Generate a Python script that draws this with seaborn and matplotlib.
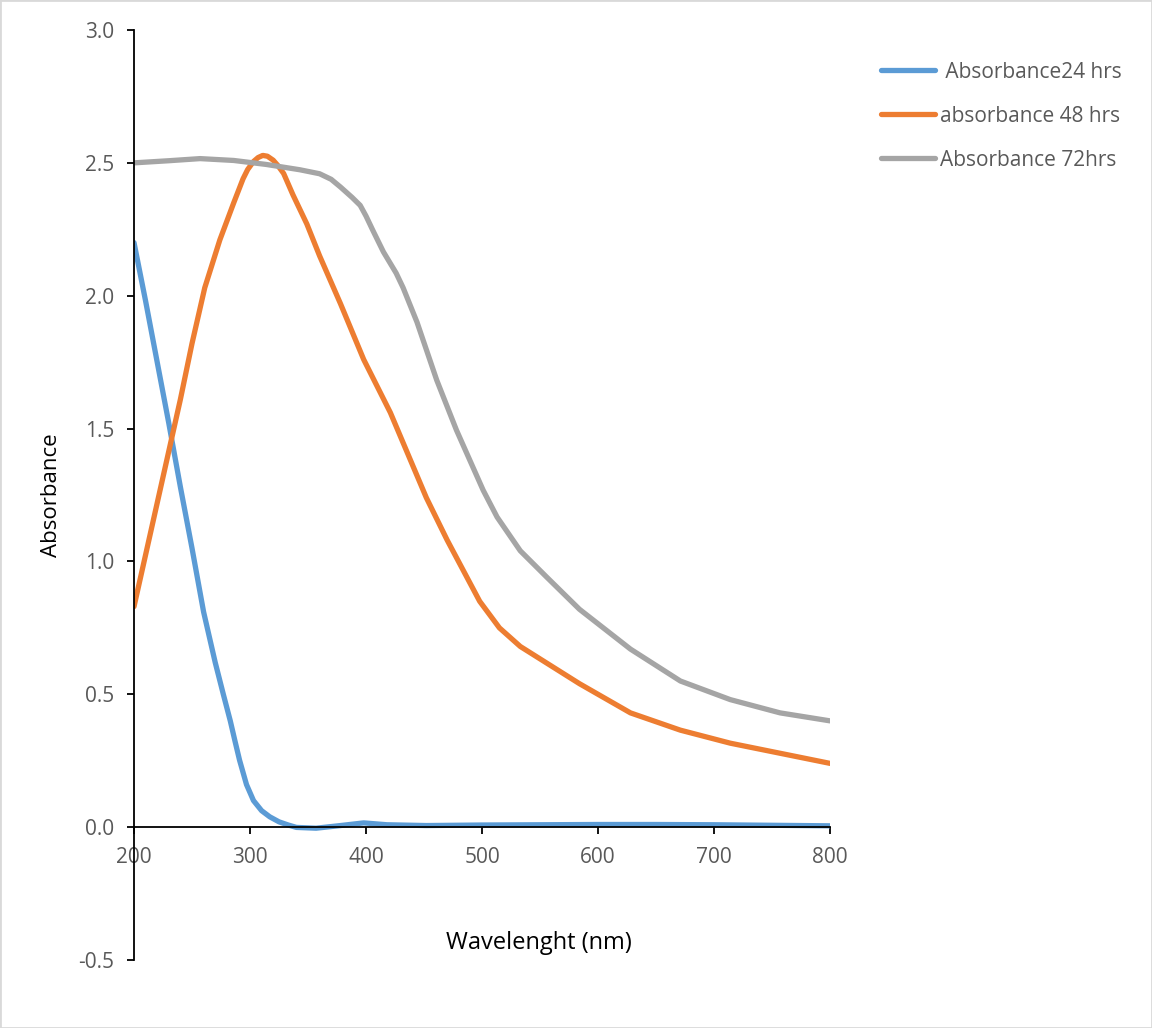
import pandas as pd
import matplotlib.pyplot as plt
import seaborn as sns
from matplotlib.patches import Rectangle

# Values (each series has its own sample wavelengths)
wl_24 = [200, 210, 220, 230, 240, 250, 260, 270, 277, 283, 287, 291, 297, 303, 310, 317,
         325, 333, 340, 357, 378, 398, 418, 452, 500, 550, 600, 650, 700, 750, 800]
abs_24 = [2.20, 1.98, 1.75, 1.52, 1.28, 1.05, 0.81, 0.62, 0.50, 0.40, 0.325, 0.252, 0.16,
          0.10, 0.062, 0.039, 0.02, 0.008, -0.001, -0.004, 0.006, 0.016, 0.009, 0.006, 0.008,
          0.009, 0.01, 0.01, 0.009, 0.007, 0.005]

wl_48 = [200, 220, 240, 250, 261, 274, 286, 294, 298, 303, 307, 311, 315, 320, 324, 329,
         337, 349, 360, 372, 378, 398, 421, 452, 470, 498, 515, 533, 584, 628, 671, 714,
         757, 800]
abs_48 = [0.83, 1.22, 1.61, 1.82, 2.03, 2.21, 2.35, 2.44, 2.475, 2.505, 2.52, 2.528, 2.525,
          2.51, 2.49, 2.46, 2.38, 2.27, 2.15, 2.03, 1.97, 1.76, 1.56, 1.24, 1.08, 0.85, 0.75,
          0.68, 0.54, 0.43, 0.365, 0.316, 0.278, 0.24]

wl_72 = [200, 230, 257, 286, 314, 343, 360, 370, 378, 388, 395, 400, 406, 415, 426, 432,
         444, 461, 478, 501, 513, 533, 556, 584, 628, 671, 714, 757, 800]
abs_72 = [2.50, 2.508, 2.516, 2.509, 2.494, 2.474, 2.459, 2.438, 2.409, 2.37, 2.34, 2.30,
          2.245, 2.165, 2.085, 2.03, 1.90, 1.682, 1.494, 1.268, 1.167, 1.04, 0.94, 0.82, 0.67,
          0.55, 0.48, 0.43, 0.40]

labels = [' Absorbance24 hrs', 'absorbance 48 hrs', 'Absorbance 72hrs']
colors = ['#5B9BD5', '#ED7D31', '#A5A5A5']

df = pd.concat([
    pd.DataFrame({'Wavelength': wl_24, 'Absorbance': abs_24, 'Series': labels[0]}),
    pd.DataFrame({'Wavelength': wl_48, 'Absorbance': abs_48, 'Series': labels[1]}),
    pd.DataFrame({'Wavelength': wl_72, 'Absorbance': abs_72, 'Series': labels[2]}),
], ignore_index=True)

sns.set_style('white')
plt.rcParams['font.family'] = ['Open Sans', 'DejaVu Sans']

fig = plt.figure(figsize=(11.52, 10.28), dpi=100)
ax = fig.add_axes([134 / 1152, 1 - 960 / 1028, (830 - 134) / 1152, (960 - 30) / 1028])

sns.lineplot(data=df, x='Wavelength', y='Absorbance', hue='Series', palette=colors,
             linewidth=3.8, sort=False, ax=ax, legend=False)
for line in ax.lines:
    line.set_solid_joinstyle('round')
    line.set_solid_capstyle('round')

ax.set_xlim(200, 800)
ax.set_ylim(-0.5, 3.0)
ax.set_xticks([200, 300, 400, 500, 600, 700, 800])
ax.set_yticks([-0.5, 0.0, 0.5, 1.0, 1.5, 2.0, 2.5, 3.0])
ax.set_yticklabels([f'{v:.1f}' for v in ax.get_yticks()])

# Excel-style axes: y axis at left, x axis crossing at zero
ax.spines['top'].set_visible(False)
ax.spines['right'].set_visible(False)
ax.spines['bottom'].set_position(('data', 0))
for s in ['left', 'bottom']:
    ax.spines[s].set_color('black')
    ax.spines[s].set_linewidth(1.3)
ax.tick_params(axis='both', bottom=True, left=True, direction='out', length=5, width=1.3,
               color='black', labelsize=15, labelcolor='#595959')
ax.tick_params(axis='x', pad=9)
ax.tick_params(axis='y', pad=9)

ax.set_xlabel('Wavelenght (nm)', fontsize=17, color='black')
ax.set_ylabel('Absorbance', fontsize=16, color='black')
ax.xaxis.label.set_va('center')
ax.yaxis.label.set_va('center')
ax.xaxis.set_label_coords(0.582, (960 - 943) / 930)
ax.yaxis.set_label_coords(-0.118, 0.5)

# legend outside on the right
handles = [plt.Line2D([0], [0], color=c, lw=3.8, solid_capstyle='round') for c in colors]
fig.legend(handles, labels, loc='upper left', bbox_to_anchor=(862 / 1152, 1 - 43 / 1028),
           frameon=False, fontsize=15, handlelength=2.6, handletextpad=0.25,
           labelspacing=1.1, labelcolor='#595959')

# light grey frame around the image
fig.patches.append(Rectangle((0, 0), 1, 1, transform=fig.transFigure, fill=False,
                             edgecolor='#D9D9D9', linewidth=2))

fig.savefig('out.png', dpi=100)
